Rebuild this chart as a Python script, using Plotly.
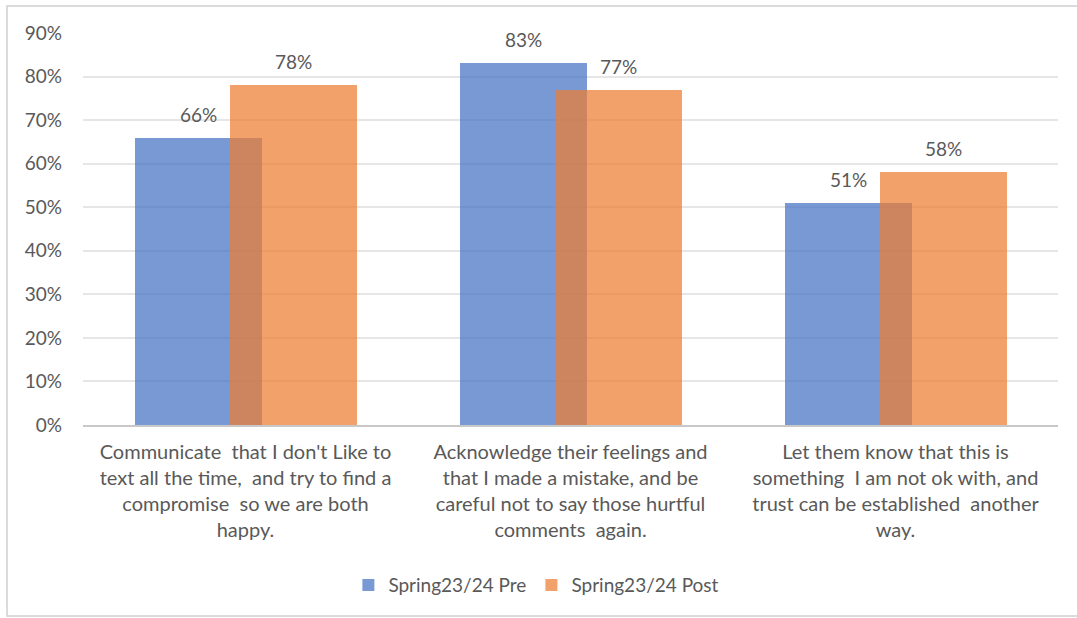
import plotly.graph_objects as go

categories = [
    "Communicate  that I don't Like to<br>text all the time,  and try to find a<br>compromise  so we are both<br>happy.",
    "Acknowledge their feelings and<br>that I made a mistake, and be<br>careful not to say those hurtful<br>comments  again.",
    "Let them know that this is<br>something  I am not ok with, and<br>trust can be established  another<br>way.",
]
pre_values = [66, 83, 51]
post_values = [78, 77, 58]
series_names = ["Spring23/24 Pre", "Spring23/24 Post"]
y_ticks = [0, 10, 20, 30, 40, 50, 60, 70, 80, 90]
y_tick_labels = [f"{v}%" for v in y_ticks]

FONT = "Lato, Carlito, Calibri, sans-serif"
TEXT_COLOR = "#595959"
PX_PER_CAT = 325  # plot width / number of categories

BAR_W = 0.39
PRE_OFF = -0.34
POST_OFF = -0.048

fig = go.Figure()
fig.add_trace(go.Bar(
    x=categories, y=pre_values, name=series_names[0],
    marker=dict(color="rgba(68,114,196,0.72)", line=dict(width=0)),
    width=BAR_W, offset=PRE_OFF,
))
fig.add_trace(go.Bar(
    x=categories, y=post_values, name=series_names[1],
    marker=dict(color="rgba(237,125,49,0.72)", line=dict(width=0)),
    width=BAR_W, offset=POST_OFF,
))

annotations = []
for vals, off in ((pre_values, PRE_OFF), (post_values, POST_OFF)):
    for c, v in zip(categories, vals):
        annotations.append(dict(
            x=c, y=v, xref="x", yref="y", text=f"{v}%", showarrow=False,
            xanchor="center", yanchor="bottom",
            xshift=(off + BAR_W / 2) * PX_PER_CAT, yshift=10,
            font=dict(size=19, color=TEXT_COLOR, family=FONT),
        ))

fig.update_layout(
    width=1077, height=618,
    margin=dict(l=83, r=19, t=33, b=193),
    barmode="overlay",
    plot_bgcolor="white", paper_bgcolor="white",
    font=dict(family=FONT, size=19, color=TEXT_COLOR),
    showlegend=True,
    legend=dict(orientation="h", x=0.465, xanchor="center", y=-0.36, yanchor="top",
                font=dict(size=19, color=TEXT_COLOR, family=FONT),
                itemwidth=30, traceorder="normal"),
    xaxis=dict(range=[-0.5, 2.5], showgrid=False, showline=True, linecolor="#c8c8c8",
               linewidth=1.5, ticks="", ticklabelstandoff=8,
               tickfont=dict(size=20, color=TEXT_COLOR, family=FONT)),
    yaxis=dict(range=[0, 90], tickvals=y_ticks, ticktext=y_tick_labels,
               showgrid=True, gridcolor="#e6e6e6", gridwidth=1.5, zeroline=False,
               showline=False, ticks="", ticklabelstandoff=20,
               tickfont=dict(size=19, color=TEXT_COLOR, family=FONT)),
    bargap=0, bargroupgap=0,
    annotations=annotations,
    shapes=[dict(type="rect", xref="paper", yref="paper",
                 x0=(7 - 83) / 975, x1=(1085 - 83) / 975,
                 y0=(425 - 616) / 392, y1=(425 - 6) / 392,
                 line=dict(color="#d0d0d0", width=1.5), fillcolor="rgba(0,0,0,0)", layer="below")],
)

fig.write_html("out.html")
